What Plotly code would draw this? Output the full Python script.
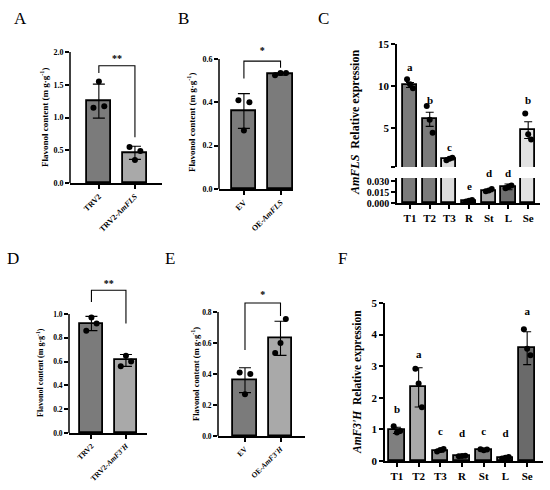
import plotly.graph_objects as go

# ---- data ----
A_CATS = ["TRV2", "TRV2-<i>AmFLS</i>"]
A_MEANS = [1.25, 0.46]
A_SD = [0.26, 0.10]
A_POINTS = [[1.55, 1.15, 1.17], [0.35, 0.55, 0.49]]
A_BRACKET = [1.68, 1.79, 0.70]   # left foot, top, right foot
A_STAR = ("**", 1.88)

B_CATS = ["EV", "OE-<i>AmFLS</i>"]
B_MEANS = [0.36, 0.53]
B_SD = [0.08, 0.005]
B_POINTS = [[0.27, 0.41, 0.40], [0.535, 0.525, 0.535]]
B_BRACKET = [0.51, 0.59, 0.56]
B_STAR = ("*", 0.635)

D_CATS = ["TRV2", "TRV2-<i>AmF3'H</i>"]
D_MEANS = [0.92, 0.61]
D_SD = [0.06, 0.05]
D_POINTS = [[0.97, 0.86, 0.92], [0.65, 0.56, 0.60]]
D_BRACKET = [1.10, 1.20, 0.92]
D_STAR = ("**", 1.245)

E_CATS = ["EV", "OE-<i>AmF3'H</i>"]
E_MEANS = [0.36, 0.63]
E_SD = [0.08, 0.11]
E_POINTS = [[0.27, 0.41, 0.40], [0.60, 0.535, 0.755]]
E_BRACKET = [0.555, 0.858, 0.775]
E_STAR = ("*", 0.905)

TISSUES = ["T1", "T2", "T3", "R", "St", "L", "Se"]

FLS_MEANS = [10.1, 6.0, 1.3, 0.003, 0.017, 0.022, 4.7]
FLS_SEM = [0.3, 0.85, 0.1, 0.001, 0.0015, 0.004, 1.0]
FLS_POINTS = [[10.2, 10.8, 9.7], [5.95, 7.6, 4.4], [1.3, 1.1, 1.4],
              [0.003, 0.002, 0.004], [0.017, 0.016, 0.019],
              [0.022, 0.020, 0.024], [4.2, 6.7, 3.6]]
FLS_LETTERS = ["a", "b", "c", "e", "d", "d", "b"]
FLS_LETTER_Y = [12.3, 8.3, 2.7, 0.023, 0.041, 0.041, 8.3]
FLS_COLORS = ["#7b7b7b", "#7b7b7b", "#dcdcdc", "#6e6e6e", "#a9a9a9", "#6e6e6e", "#e2e2e2"]

F3H_MEANS = [0.97, 2.33, 0.33, 0.16, 0.35, 0.10, 3.57]
F3H_SD = [0.10, 0.62, 0.05, 0.02, 0.03, 0.03, 0.52]
F3H_POINTS = [[0.90, 1.10, 0.95], [2.45, 2.92, 1.70], [0.35, 0.30, 0.38],
              [0.16, 0.15, 0.17], [0.34, 0.37, 0.36], [0.10, 0.08, 0.13],
              [3.55, 4.17, 3.35]]
F3H_LETTERS = ["b", "a", "c", "d", "c", "d", "a"]
F3H_LETTER_Y = [1.6, 3.35, 0.9, 0.85, 0.9, 0.85, 4.7]
F3H_COLORS = ["#7f7f7f", "#a9a9a9", "#8a8a8a", "#777777", "#808080", "#777777", "#6a6a6a"]

DARK = "#7b7b7b"
LIGHT = "#a9a9a9"

W, H = 550, 490
SERIF = "Liberation Serif, Times New Roman, serif"
JITTER = [0.0, -0.15, 0.15]


def dx(p):
    return p / W


def dy(p):
    return 1 - p / H


def ydomain(p0, ptop, vtop, vmax):
    # pixel rows of value 0 and of the top tick -> domain that holds [0, vmax]
    ppu = (p0 - ptop) / vtop
    return [dy(p0), dy(p0 - vmax * ppu)]


fig = go.Figure()
axis_line = dict(showline=True, linecolor="black", linewidth=1.5, ticks="outside",
                 ticklen=4, tickwidth=1.5, tickcolor="black", showgrid=False,
                 zeroline=False, automargin=False)


def add_text(xa, ya, xs, ys, texts, size):
    fig.add_trace(go.Scatter(
        x=xs, y=ys, text=texts, mode="text", xaxis=xa, yaxis=ya,
        textfont=dict(family=SERIF, size=size, color="black", weight="bold"),
        showlegend=False, hoverinfo="skip"))


def add_bars(xa, ya, n_cats, means, errs, points, colors, width, cap, keep=None):
    xs = list(range(n_cats))
    if keep is None:
        keep = [True] * n_cats
    fig.add_trace(go.Bar(
        x=xs, y=[m if k else None for m, k in zip(means, keep)], width=width,
        xaxis=xa, yaxis=ya,
        marker=dict(color=colors, line=dict(color="black", width=1.8)),
        error_y=dict(type="data", array=errs, color="black", thickness=1.1, width=cap),
        showlegend=False))
    px_, py_ = [], []
    for i, pts in enumerate(points):
        if not keep[i]:
            continue
        for j, v in enumerate(pts):
            px_.append(i + JITTER[j])
            py_.append(v)
    fig.add_trace(go.Scatter(
        x=px_, y=py_, mode="markers", xaxis=xa, yaxis=ya,
        marker=dict(color="black", size=6), showlegend=False))


def two_bar(idx, cats, means, sd, points, colors, bracket, star,
            ytickvals, xdom, p0, ptop, xrange, tsize=8):
    key = "" if idx == 1 else str(idx)
    xa, ya = "x" + key, "y" + key
    vtop = ytickvals[-1]
    vmax = max(vtop, bracket[1], star[1]) * 1.06
    add_bars(xa, ya, 2, means, sd, points, colors, 0.66, 6)
    fig.add_trace(go.Scatter(
        x=[0, 0, 1, 1], y=[bracket[0], bracket[1], bracket[1], bracket[2]],
        mode="lines", line=dict(color="black", width=1.1),
        xaxis=xa, yaxis=ya, showlegend=False))
    add_text(xa, ya, [0.5], [star[1]], [star[0]], 10)
    # y axis line stops at the top tick
    fig.add_shape(type="line", xref=f"{xa} domain", yref=ya, x0=0, x1=0, y0=0, y1=vtop,
                  line=dict(color="black", width=1.5))
    fig.update_layout(**{
        f"xaxis{key}": dict(axis_line, domain=xdom, range=xrange, anchor=ya,
                            tickvals=[0, 1], ticktext=cats, tickangle=-45,
                            tickfont=dict(family=SERIF, size=tsize, color="black", weight="bold")),
        f"yaxis{key}": dict(axis_line, showline=False, domain=ydomain(p0, ptop, vtop, vmax),
                            range=[0, vmax], anchor=xa,
                            tickvals=ytickvals, tickformat=".1f",
                            tickfont=dict(family=SERIF, size=tsize, color="black", weight="bold")),
    })


two_bar(1, A_CATS, A_MEANS, A_SD, A_POINTS, [DARK, LIGHT], A_BRACKET, A_STAR,
        [0, 0.5, 1.0, 1.5, 2.0], [dx(70), dx(162)], 183, 52, [-0.8, 1.75])
two_bar(2, B_CATS, B_MEANS, B_SD, B_POINTS, [DARK, DARK], B_BRACKET, B_STAR,
        [0, 0.2, 0.4, 0.6], [dx(219), dx(293)], 189, 59, [-0.68, 1.34])
two_bar(3, D_CATS, D_MEANS, D_SD, D_POINTS, [DARK, LIGHT], D_BRACKET, D_STAR,
        [0, 0.2, 0.4, 0.6, 0.8, 1.0], [dx(69), dx(147)], 433, 314, [-0.65, 1.61], tsize=7.5)
two_bar(4, E_CATS, E_MEANS, E_SD, E_POINTS, [DARK, LIGHT], E_BRACKET, E_STAR,
        [0, 0.2, 0.4, 0.6, 0.8], [dx(218), dx(305)], 436, 312, [-0.76, 1.69], tsize=7.5)

# ---- panel C: broken y axis (lower x5/y5, upper x6/y6) ----
c_xrange = [-0.66, 6.6]
c_low_range = [0, 0.0341]
c_high_range = [0.3, 15]
add_bars("x5", "y5", 7, FLS_MEANS, FLS_SEM, FLS_POINTS, FLS_COLORS, 0.72, 4)
add_bars("x6", "y6", 7, FLS_MEANS, FLS_SEM, FLS_POINTS, FLS_COLORS, 0.72, 4,
         keep=[m > c_high_range[0] for m in FLS_MEANS])
tick_big = dict(family=SERIF, size=11, color="black", weight="bold")
fig.update_layout(
    xaxis5=dict(axis_line, domain=[dx(397), dx(540)], range=c_xrange, anchor="y5",
                tickvals=list(range(7)), ticktext=TISSUES, tickfont=tick_big),
    yaxis5=dict(axis_line, domain=[dy(203), dy(178)], range=c_low_range, anchor="x5",
                tickvals=[0, 0.015, 0.03], ticktext=["0.000", "0.015", "0.030"],
                tickfont=dict(tick_big, size=10)),
    xaxis6=dict(domain=[dx(397), dx(540)], range=c_xrange, anchor="y6", visible=False),
    yaxis6=dict(axis_line, domain=[dy(167), dy(44)], range=c_high_range, anchor="x6",
                tickvals=[c_high_range[0], 5, 10, 15], ticktext=["", "5", "10", "15"],
                tickfont=tick_big),
)
for i, (lt, ly) in enumerate(zip(FLS_LETTERS, FLS_LETTER_Y)):
    if ly > 1:
        yref, yv = "y6", ly
    else:
        # lower segment: place relative to its domain so letters may sit above it
        yref, yv = "y5 domain", (ly - c_low_range[0]) / (c_low_range[1] - c_low_range[0])
    fig.add_annotation(x=i, y=yv, xref="x5", yref=yref, text=f"<b>{lt}</b>",
                       showarrow=False, xanchor="center", yanchor="middle",
                       font=dict(family=SERIF, size=11, color="black"))

# ---- panel F ----
add_bars("x7", "y7", 7, F3H_MEANS, F3H_SD, F3H_POINTS, F3H_COLORS, 0.72, 4)
fig.update_layout(
    xaxis7=dict(axis_line, domain=[dx(385), dx(543)], range=[-0.55, 6.73], anchor="y7",
                tickvals=list(range(7)), ticktext=TISSUES, tickfont=tick_big),
    yaxis7=dict(axis_line, domain=[dy(461), dy(303)], range=[0, 5], anchor="x7",
                tickvals=[0, 1, 2, 3, 4, 5], tickfont=tick_big),
)
add_text("x7", "y7", list(range(7)), F3H_LETTER_Y, F3H_LETTERS, 11)

# ---- y titles and panel letters ----
flav = "<b>Flavonol content (m g·g<sup>-1</sup>)</b>"
for xp, yp, txt, sz in [
    (44, 117, flav, 9), (191, 122, flav, 9), (40, 373, flav, 8), (195, 374, flav, 8.5),
    (355, 123, "<b><i>AmFLS</i>  Relative expression</b>", 12),
    (357, 382, "<b><i>AmF3'H</i>  Relative expression</b>", 11.5),
]:
    fig.add_annotation(x=dx(xp), y=dy(yp), xref="paper", yref="paper", text=txt,
                       textangle=-90, showarrow=False, xanchor="center", yanchor="middle",
                       font=dict(family=SERIF, size=sz, color="black"))

for lbl, xp, yp in [("A", 20, 18), ("B", 183, 18), ("C", 323, 18),
                    ("D", 13, 258), ("E", 170, 258), ("F", 342, 258)]:
    fig.add_annotation(x=dx(xp), y=dy(yp), xref="paper", yref="paper", text=lbl,
                       showarrow=False, xanchor="center", yanchor="middle",
                       font=dict(family=SERIF, size=17, color="black"))

fig.update_layout(template="none", width=W, height=H, margin=dict(l=0, r=0, t=0, b=0),
                  paper_bgcolor="white", plot_bgcolor="white", bargap=0)
fig.write_html("out.html", config={"displayModeBar": False},
               post_script="document.body.style.margin='0';")
